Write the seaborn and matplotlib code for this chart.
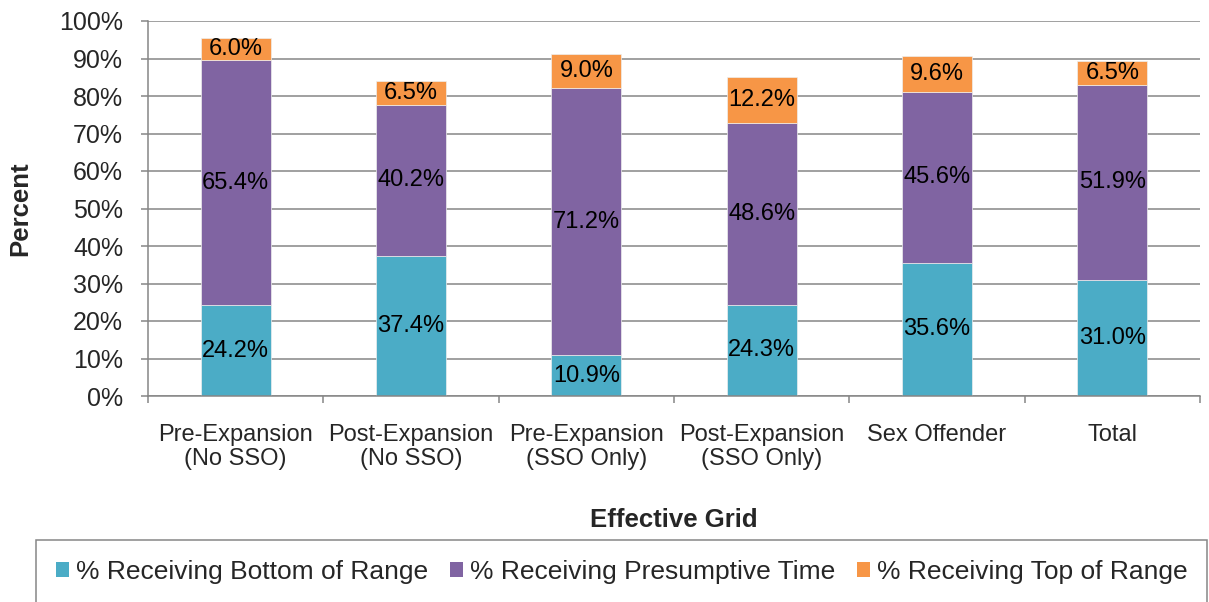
import numpy as np
import pandas as pd
import matplotlib
matplotlib.use("Agg")
import matplotlib.pyplot as plt
from matplotlib.patches import Patch
import seaborn as sns

# Sentence position within the guideline range, by effective grid
categories = [
    "Pre-Expansion\n(No SSO)",
    "Post-Expansion\n(No SSO)",
    "Pre-Expansion\n(SSO Only)",
    "Post-Expansion\n(SSO Only)",
    "Sex Offender",
    "Total",
]
bottom_of_range = [24.2, 37.4, 10.9, 24.3, 35.6, 31.0]
presumptive_time = [65.4, 40.2, 71.2, 48.6, 45.6, 51.9]
top_of_range = [6.0, 6.5, 9.0, 12.2, 9.6, 6.5]

series_names = [
    "% Receiving Bottom of Range",
    "% Receiving Presumptive Time",
    "% Receiving Top of Range",
]
series_colors = ["#4BACC6", "#8064A2", "#F79646"]
y_ticks = list(range(0, 101, 10))

sns.set_style("white")
plt.rcParams["font.family"] = ["Liberation Sans", "DejaVu Sans"]

grey = "#868686"

fig = plt.figure(figsize=(12.09, 6.02), dpi=100)
ax = fig.add_axes([148 / 1209, 1 - 396 / 602, (1200 - 148) / 1209, (396 - 21) / 602])

df = pd.DataFrame({
    "grid": categories,
    series_names[0]: bottom_of_range,
    series_names[1]: presumptive_time,
    series_names[2]: top_of_range,
})

base = np.zeros(len(categories))
for name, color in zip(series_names, series_colors):
    vals = df[name].to_numpy()
    sns.barplot(data=df, x="grid", y=name, order=categories, color=color,
                width=0.4, errorbar=None, bottom=base, saturation=1,
                edgecolor="#eeeeee", linewidth=0.5, ax=ax, zorder=3)
    for i, v in enumerate(vals):
        ax.text(i, base[i] + v / 2, f"{v:.1f}%", ha="center", va="center",
                fontsize=17, color="black", zorder=4)
    base = base + vals

ax.set_xlim(-0.5, len(categories) - 0.5)
ax.set_ylim(0, 100)
ax.set_yticks(y_ticks)
ax.set_yticklabels([f"{t}%" for t in y_ticks])
ax.set_xticks(range(len(categories)))
ax.set_xticklabels(categories)
ax.set_xticks(np.arange(-0.5, len(categories), 1), minor=True)

ax.set_axisbelow(True)
ax.yaxis.grid(True, color=grey, linewidth=1.1, zorder=0)
ax.xaxis.grid(False)
for side in ["top", "right"]:
    ax.spines[side].set_visible(False)
for side in ["left", "bottom"]:
    ax.spines[side].set_color(grey)
    ax.spines[side].set_linewidth(1.1)
    ax.spines[side].set_zorder(5)

ax.tick_params(axis="y", which="major", direction="out", length=5, width=1.1,
               color=grey, pad=13, labelsize=18, left=True)
ax.tick_params(axis="x", which="major", length=0, pad=20, labelsize=17)
ax.tick_params(axis="x", which="minor", direction="out", length=5, width=1.1,
               color=grey, bottom=True)
for lab in ax.get_xticklabels():
    lab.set_linespacing(1.15)

ax.set_ylabel("Percent", fontsize=18.5, fontweight="bold")
ax.yaxis.set_label_coords((20 - 148) / 1052, 0.5)
ax.yaxis.label.set_va("center")
ax.set_xlabel("Effective Grid", fontsize=18.5, fontweight="bold")
ax.xaxis.set_label_coords(0.5, (396 - 520) / 375)
ax.xaxis.label.set_va("center")

handles = [Patch(facecolor=c, edgecolor="none") for c in series_colors]
leg = fig.legend(handles, series_names, loc="upper left",
                 bbox_to_anchor=(36 / 1209, 1 - 540 / 602, (1207 - 36) / 1209, 0),
                 mode="expand", ncol=3, fontsize=19, frameon=True, fancybox=False,
                 borderpad=0.75, handlelength=0.5, handleheight=0.5,
                 handletextpad=0.25, columnspacing=0.8, borderaxespad=0)
frame = leg.get_frame()
frame.set_edgecolor(grey)
frame.set_linewidth(1.1)
frame.set_facecolor("white")
frame.set_alpha(1)

fig.savefig("out.png", dpi=100)
